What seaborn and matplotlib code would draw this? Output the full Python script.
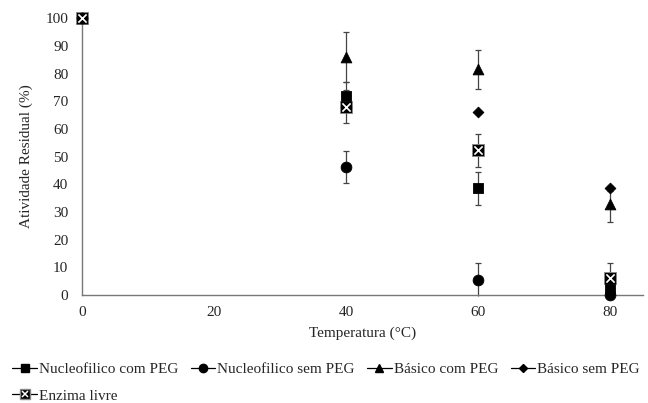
import numpy as np
import pandas as pd
import seaborn as sns
import matplotlib.pyplot as plt
from matplotlib.lines import Line2D
from matplotlib.legend_handler import HandlerTuple

# dados
temperatura = [0, 40, 60, 80]
series = ["Nucleofilico com PEG", "Nucleofilico sem PEG", "Básico com PEG",
          "Básico sem PEG", "Enzima livre"]
nuc_com_peg = [100, 72, 38.5, 2]
nuc_com_peg_err = [0, 5, 6, 0]
nuc_sem_peg = [100, 46.3, 5.5, 0]
nuc_sem_peg_err = [0, 5.8, 6, 0]
bas_com_peg = [100, 86, 81.5, 32.7]
bas_com_peg_err = [0, 9, 7, 6.5]
bas_sem_peg = [100, 68, 66.2, 38.5]
bas_sem_peg_err = [0, 0, 0, 1]
enzima = [100, 68, 52.2, 6]
enzima_err = [0, 6, 6, 5.7]

valores = [nuc_com_peg, nuc_sem_peg, bas_com_peg, bas_sem_peg, enzima]
erros = [nuc_com_peg_err, nuc_sem_peg_err, bas_com_peg_err, bas_sem_peg_err, enzima_err]
marcadores = ["s", "o", "^", "D", "s"]
tamanhos = [55, 60, 60, 30, 75]

sns.set_style("white")
plt.rcParams["font.family"] = ["Liberation Serif", "DejaVu Serif"]
plt.rcParams["font.size"] = 11

fig = plt.figure(figsize=(6.48, 4.03), dpi=100)
ax = fig.add_axes([0.127, 0.268, 0.865, 0.687])

# desenhar do ultimo para o primeiro (enzima fica por baixo em 40)
ordem = [4, 3, 2, 0, 1]
for i in ordem:
    df = pd.DataFrame({"Temperatura": temperatura, "Atividade": valores[i], "erro": erros[i]})
    ax.errorbar(df["Temperatura"], df["Atividade"], yerr=df["erro"], fmt="none",
                ecolor="#444444", elinewidth=0.9, capsize=2.5, capthick=0.9, zorder=2)
    sns.scatterplot(data=df, x="Temperatura", y="Atividade", marker=marcadores[i],
                    s=tamanhos[i], color="black", edgecolor="#888888" if i == 4 else "black",
                    linewidth=0.6, ax=ax, zorder=3)
    if i == 4:
        sns.scatterplot(data=df, x="Temperatura", y="Atividade", marker="x", s=35,
                        color="white", linewidth=1.2, ax=ax, zorder=4)

ax.set_xlim(0, 85)
ax.set_ylim(0, 100)
ax.set_xticks([0, 20, 40, 60, 80])
ax.set_yticks(np.arange(0, 101, 10))
ax.set_xlabel("Temperatura (°C)", fontsize=11, labelpad=5)
ax.set_ylabel("Atividade Residual (%)", fontsize=11, labelpad=9)
sns.despine(ax=ax)
for s in ["left", "bottom"]:
    ax.spines[s].set_color("#777777")
    ax.spines[s].set_linewidth(1.0)
ax.tick_params(length=0, labelsize=11)
ax.tick_params(axis="y", pad=10)
ax.tick_params(axis="x", pad=8)
for c in ax.collections:
    c.set_clip_on(False)

handles = []
for i in range(4):
    handles.append(Line2D([], [], color="black", lw=0.9, marker=marcadores[i],
                          markersize=6 if i != 3 else 4.5))
h5a = Line2D([], [], color="black", lw=0.9, marker="s", markersize=7,
             markeredgecolor="#888888")
h5b = Line2D([], [], lw=0, marker="x", markersize=4.5, color="white", markeredgewidth=1.1)
handles.append((h5a, h5b))

# ordem para preencher por linhas com ncol=4
idx = [0, 4, 1, 2, 3]
fig.legend([handles[k] for k in idx], [series[k] for k in idx], loc="lower left",
           bbox_to_anchor=(0.005, -0.022), ncol=4, frameon=False, fontsize=11,
           handlelength=1.6, handletextpad=0.15, columnspacing=0.8, labelspacing=0.85,
           borderaxespad=0.2, handler_map={tuple: HandlerTuple(ndivide=1, pad=0)})

fig.savefig("out.png", dpi=100)
